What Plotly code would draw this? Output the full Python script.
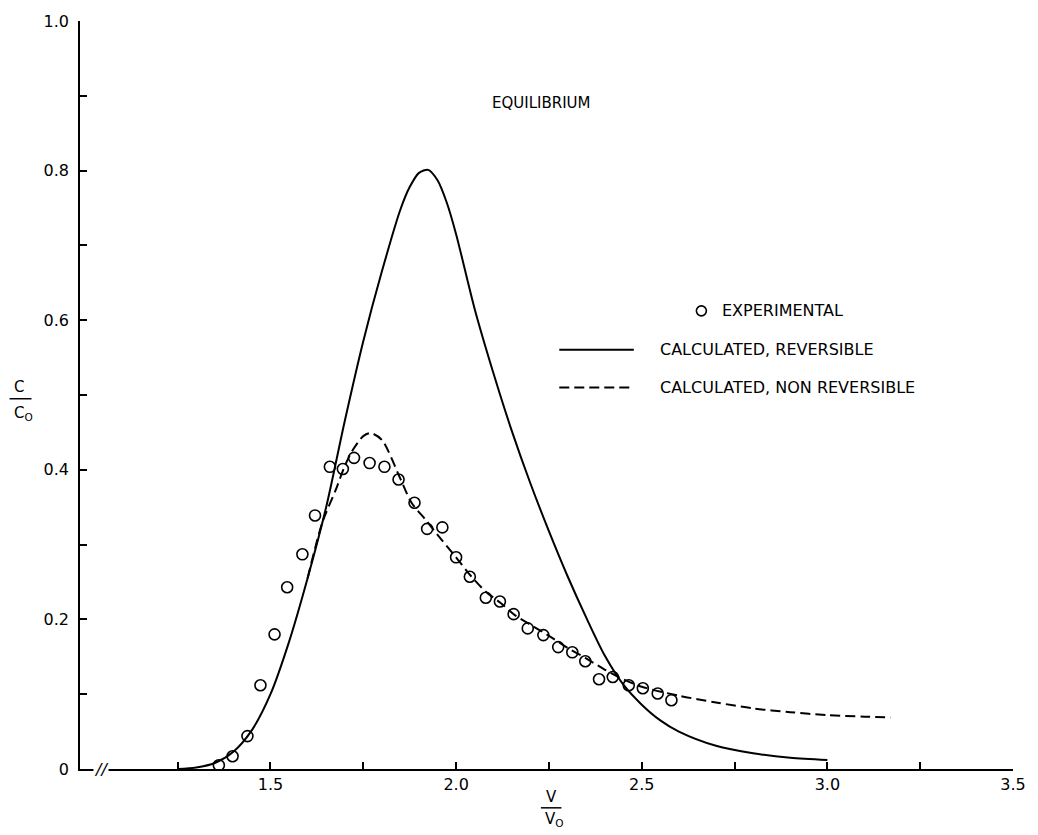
import plotly.graph_objects as go

# ---- data ----
exp_x = [1.361, 1.398, 1.438, 1.473, 1.511, 1.545, 1.586, 1.620, 1.660, 1.695, 1.725,
         1.767, 1.807, 1.845, 1.888, 1.922, 1.963, 2.000, 2.037, 2.080, 2.118, 2.155,
         2.193, 2.235, 2.275, 2.313, 2.348, 2.385, 2.422, 2.465, 2.503, 2.543, 2.580]
exp_y = [0.005, 0.017, 0.044, 0.112, 0.180, 0.243, 0.287, 0.339, 0.404, 0.401, 0.416,
         0.409, 0.404, 0.387, 0.356, 0.321, 0.323, 0.283, 0.257, 0.229, 0.224, 0.207,
         0.188, 0.179, 0.163, 0.156, 0.144, 0.120, 0.123, 0.112, 0.108, 0.101, 0.092]

rev_x = [1.25, 1.30, 1.35, 1.40, 1.45, 1.50, 1.55, 1.60, 1.65, 1.70, 1.75, 1.80, 1.85,
         1.875, 1.90, 1.925, 1.95, 1.975, 2.00, 2.05, 2.10, 2.15, 2.20, 2.25, 2.30, 2.35,
         2.40, 2.45, 2.50, 2.55, 2.60, 2.70, 2.80, 2.90, 3.00]
rev_y = [0.0, 0.002, 0.008, 0.023, 0.052, 0.100, 0.170, 0.255, 0.350, 0.465, 0.572,
         0.665, 0.748, 0.778, 0.797, 0.801, 0.787, 0.757, 0.715, 0.615, 0.530, 0.452,
         0.382, 0.318, 0.258, 0.203, 0.152, 0.113, 0.086, 0.065, 0.050, 0.031, 0.021,
         0.015, 0.012]

nonrev_x = [1.60, 1.64, 1.675, 1.70, 1.72, 1.75, 1.77, 1.80, 1.85, 1.88, 1.92, 1.96,
            2.00, 2.04, 2.08, 2.12, 2.16, 2.20, 2.25, 2.30, 2.35, 2.40, 2.45, 2.50,
            2.60, 2.70, 2.80, 2.90, 3.00, 3.10, 3.17]
nonrev_y = [0.255, 0.330, 0.372, 0.405, 0.425, 0.445, 0.449, 0.440, 0.388, 0.356, 0.332,
            0.307, 0.283, 0.258, 0.237, 0.222, 0.205, 0.193, 0.178, 0.162, 0.148, 0.133,
            0.120, 0.110, 0.098, 0.089, 0.081, 0.076, 0.072, 0.070, 0.069]

x_tickvals = [1.5, 2.0, 2.5, 3.0, 3.5]
x_ticktext = ["1.5", "2.0", "2.5", "3.0", "3.5"]
x_minorvals = [1.25, 1.75, 2.25, 2.75, 3.25]
y_tickvals = [0.0, 0.2, 0.4, 0.6, 0.8, 1.0]
y_ticktext = ["0", "0.2", "0.4", "0.6", "0.8", "1.0"]
y_minorvals = [0.1, 0.3, 0.5, 0.7, 0.9]

FONT = "DejaVu Sans, Liberation Sans, Arial, sans-serif"

fig = go.Figure()
fig.add_trace(go.Scatter(x=rev_x, y=rev_y, mode="lines",
                         line=dict(color="black", width=2, shape="spline", smoothing=0.8),
                         name="CALCULATED, REVERSIBLE", showlegend=False))
fig.add_trace(go.Scatter(x=nonrev_x, y=nonrev_y, mode="lines",
                         line=dict(color="black", width=2, dash="10px,5px", shape="spline", smoothing=0.8),
                         name="CALCULATED, NON REVERSIBLE", showlegend=False))
fig.add_trace(go.Scatter(x=exp_x, y=exp_y, mode="markers",
                         marker=dict(symbol="circle-open", size=11, color="black", line=dict(width=1.6)),
                         name="EXPERIMENTAL", showlegend=False))

tick_common = dict(showgrid=False, zeroline=False, showline=True, linecolor="black", linewidth=1.5,
                   ticks="inside", ticklen=7, tickwidth=1.5, tickcolor="black",
                   tickfont=dict(size=16))

fig.update_layout(
    width=1038, height=835,
    margin=dict(l=80, r=18, t=18, b=66),
    paper_bgcolor="white", plot_bgcolor="white",
    font=dict(family=FONT, color="black", size=14),
    xaxis=dict(range=[0.987, 3.5], tickvals=x_tickvals, ticktext=x_ticktext,
               minor=dict(tickvals=x_minorvals, ticks="inside", ticklen=7, tickwidth=1.5,
                          tickcolor="black", showgrid=False),
               **tick_common),
    yaxis=dict(range=[0, 1.0], tickvals=y_tickvals, ticktext=y_ticktext, ticklabelstandoff=6,
               minor=dict(tickvals=y_minorvals, ticks="inside", ticklen=7, tickwidth=1.5,
                          tickcolor="black", showgrid=False),
               **tick_common),
)

def txt(text, x, y, size=14, xanchor="center", **kw):
    return dict(text=text, x=x, y=y, xref="paper", yref="paper", xanchor=xanchor,
                yanchor="middle", showarrow=False, font=dict(size=size), **kw)

ann = [
    txt("EQUILIBRIUM", 0.495, 0.891, 15),
    txt("V", 0.505, -0.0373, 15),
    txt("V<sub>O</sub>", 0.509, -0.068, 15),
    txt("C", -0.065, 0.511, 15),
    txt("C<sub>O</sub>", -0.061, 0.475, 15),
    txt("<i>//</i>", 0.022, 0.0, 16, bgcolor="white", borderpad=0),
    txt("EXPERIMENTAL", 0.686, 0.6125, 16, xanchor="left"),
    txt("CALCULATED, REVERSIBLE", 0.619, 0.5606, 16, xanchor="left"),
    txt("CALCULATED, NON REVERSIBLE", 0.619, 0.51, 16, xanchor="left"),
]
fig.update_layout(annotations=ann)

shapes = [
    # fraction bars
    dict(type="line", xref="paper", yref="paper", x0=0.494, x1=0.516, y0=-0.0519, y1=-0.0519,
         line=dict(color="black", width=1.5)),
    dict(type="line", xref="paper", yref="paper", x0=-0.0755, x1=-0.052, y0=0.495, y1=0.495,
         line=dict(color="black", width=1.5)),
    # legend samples
    dict(type="line", xref="paper", yref="paper", x0=0.5137, x1=0.5936, y0=0.5606, y1=0.5606,
         line=dict(color="black", width=2)),
    dict(type="line", xref="paper", yref="paper", x0=0.5137, x1=0.5936, y0=0.51, y1=0.51,
         line=dict(color="black", width=2, dash="10px,5px")),
    dict(type="circle", xref="paper", yref="paper", xsizemode="pixel", ysizemode="pixel",
         xanchor=0.666, yanchor=0.6125, x0=-5, x1=5, y0=-5, y1=5,
         line=dict(color="black", width=1.6)),
]
fig.update_layout(shapes=shapes)

fig.write_html("out.html")
